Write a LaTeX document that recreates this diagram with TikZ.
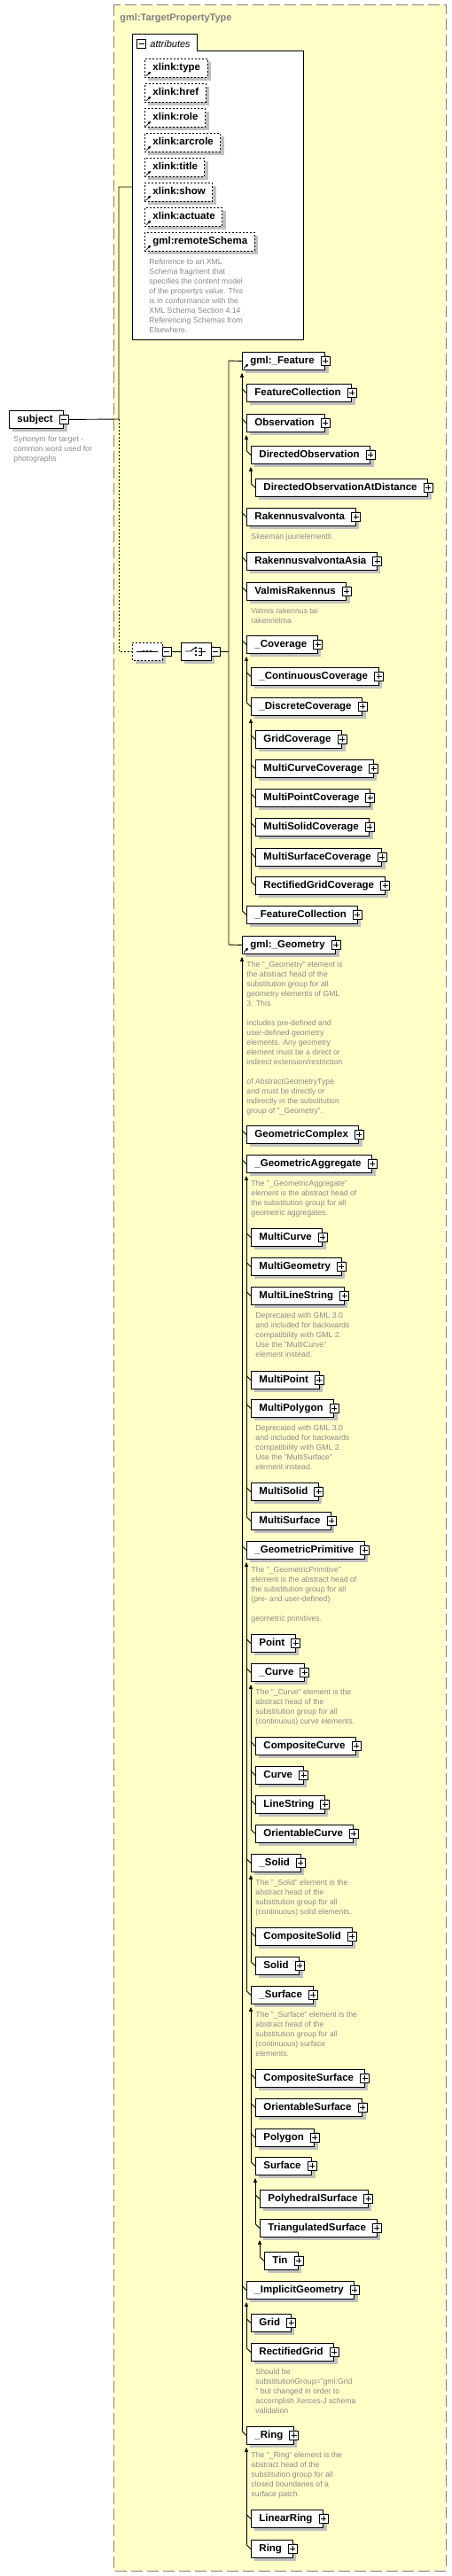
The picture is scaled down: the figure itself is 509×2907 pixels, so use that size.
\documentclass[tikz,border=0pt]{standalone}
\usepackage{fontspec}
\setmainfont{Liberation Sans}
\usepackage[HTML]{xcolor}
\usetikzlibrary{positioning, arrows.meta, shadows, shapes.misc}

\definecolor{typefill}{HTML}{FFFFC8}
\definecolor{typeline}{HTML}{808080}
\definecolor{descgray}{HTML}{8A8A8A}
\definecolor{shadowgray}{HTML}{C0C0C0}

\newcommand{\lblfont}{\fontsize{11.5pt}{13pt}\selectfont\bfseries}
\newcommand{\descfont}{\fontsize{8.7pt}{11pt}\selectfont}

\tikzset{
  boxshadow/.style={drop shadow={shadow xshift=4pt, shadow yshift=-4pt, fill=shadowgray, opacity=1}},
  typebox/.style={draw=typeline, fill=typefill, line width=1pt, dash pattern=on 13pt off 5pt},
  typetitle/.style={font=\fontsize{11pt}{13pt}\selectfont\bfseries, text=typeline, inner sep=0pt},
  elem/.style={draw, fill=white, anchor=north west, minimum height=20pt, inner xsep=0pt, inner ysep=0pt,
    text height=8pt, text depth=2.5pt, font=\lblfont, boxshadow,
    execute at begin node={\hspace*{9pt}}, execute at end node={\hspace*{12pt}}},
  attr/.style={draw, fill=white, anchor=north west, minimum height=21pt, inner xsep=0pt, inner ysep=0pt,
    text height=8pt, text depth=2.5pt, font=\lblfont, boxshadow, dash pattern=on 2pt off 2pt,
    execute at begin node={\hspace*{9pt}}, execute at end node={\hspace*{8pt}}},
  desc/.style={anchor=north west, align=left, inner sep=0pt, font=\descfont, text=descgray},
  plusbox/.style={draw, fill=white, minimum size=10pt, inner sep=0pt, line width=0.8pt,
    path picture={\draw ([xshift=-3pt]path picture bounding box.center) -- ([xshift=3pt]path picture bounding box.center)
      ([yshift=-3pt]path picture bounding box.center) -- ([yshift=3pt]path picture bounding box.center);}},
  minusbox/.style={draw, fill=white, minimum size=10pt, inner sep=0pt, line width=0.8pt,
    path picture={\draw ([xshift=-3pt]path picture bounding box.center) -- ([xshift=3pt]path picture bounding box.center);}},
  octbox/.style={chamfered rectangle, chamfered rectangle xsep=5pt, draw, fill=white,
    minimum width=34pt, minimum height=20pt, inner sep=0pt, boxshadow},
  refmark/.style={line width=0.8pt, -{Triangle[length=3pt,width=3pt]}},
  subline/.style={{Triangle[length=5pt,width=4pt]}-},
  optline/.style={dash pattern=on 2pt off 2pt}
}

% substitution group line and the small ticks to its members
\newcommand{\subgrp}[2]{\draw[subline] ([yshift=-3pt]#1.south west) -- ([xshift=-5pt,yshift=5pt]#2.west);}
\newcommand{\subticks}[1]{\foreach \c in {#1} \draw ([xshift=-5pt,yshift=5pt]\c.west) -- (\c.west);}

\begin{document}
\begin{tikzpicture}[x=1pt, y=-1pt, line width=0.9pt]
\useasboundingbox (0,0) rectangle (509,2907);

% complex type
\draw[typebox] (128,5) rectangle (503,2901);
\node[typetitle, anchor=base west] (ttl) at (135,23) {gml:TargetPropertyType};

% attributes
\draw[fill=white] (149,383) -- (149,38) -- (222,38) -- (222,57) -- (342,57) -- (342,383) -- cycle;
\node[minusbox] (attrM) at (159.5,49.5) {};
\node[font=\fontsize{11pt}{13pt}\selectfont\itshape, anchor=base west, inner sep=0pt] (attrT) at (169,53) {attributes};
\foreach \n/\t [count=\i from 0] in {aty/xlink:type, ahr/xlink:href, aro/xlink:role, aar/xlink:arcrole,
    ati/xlink:title, ash/xlink:show, aac/xlink:actuate, ars/gml:remoteSchema}{
  \node[attr] (\n) at (163,{66+28*\i}) {\t};
  \draw[refmark] ([xshift=2pt,yshift=2pt]\n.south west) -- ++(5pt,5pt);
}
\node[desc] (arsD) at ([xshift=5pt,yshift=-8pt]ars.south west) {Reference to an XML\\Schema fragment that\\specifies the content model\\of the propertys value. This\\is in conformance with the\\XML Schema Section 4.14\\Referencing Schemas from\\Elsewhere.};

% the element
\node[elem] (subj) at (10,463) {subject};
\node[minusbox] (subjM) at (subj.east) {};
\node[desc] (subjD) at ([xshift=5pt,yshift=-8pt]subj.south west) {Synonym for target -\\common word used for\\photographs};

% sequence and choice
\node[octbox, dash pattern=on 2pt off 2pt] (seq) at (166,735) {};
\draw ([xshift=-12pt]seq.center) -- ([xshift=12pt]seq.center);
\foreach \d in {-4,0,4} \fill ([xshift=\d pt]seq.center) ++(-1.3pt,-1.3pt) rectangle ++(2.6pt,2.6pt);
\node[minusbox] (seqM) at ([xshift=5pt]seq.east) {};
\node[octbox] (choice) at (221,735) {};
\draw ([xshift=-12pt]choice.center) -- ([xshift=-6pt]choice.center) -- ([xshift=-1pt,yshift=4pt]choice.center);
\foreach \d in {-4,0,4} \fill ([yshift=\d pt]choice.center) ++(-1.3pt,-1.3pt) rectangle ++(2.6pt,2.6pt);
\draw ([xshift=3pt,yshift=4pt]choice.center) -- ([xshift=6pt,yshift=4pt]choice.center) -- ([xshift=6pt,yshift=-4pt]choice.center) -- ([xshift=3pt,yshift=-4pt]choice.center)
  ([xshift=3pt]choice.center) -- ([xshift=11pt]choice.center);
\node[minusbox] (choiceM) at ([xshift=5pt]choice.east) {};

% members of the choice and their substitution groups
\foreach \n/\x/\y/\t in {
    feat/273/397/gml:\_Feature, geom/273/1056/gml:\_Geometry,
    fc/278/433/FeatureCollection, obs/278/467/Observation, rak/278/573/Rakennusvalvonta,
    raka/278/623/RakennusvalvontaAsia, valm/278/657/ValmisRakennus, cov/278/717/\_Coverage,
    fcol/278/1022/\_FeatureCollection,
    dobs/283/503/DirectedObservation, dobsd/288/540/DirectedObservationAtDistance,
    ccov/283/753/\_ContinuousCoverage, dcov/283/787/\_DiscreteCoverage,
    gridc/288/824/GridCoverage, mcc/288/857/MultiCurveCoverage, mpc/288/890/MultiPointCoverage,
    msc/288/923/MultiSolidCoverage, msfc/288/957/MultiSurfaceCoverage, rgc/288/989/RectifiedGridCoverage,
    gcx/278/1270/GeometricComplex, gagg/278/1303/\_GeometricAggregate, gprim/278/1739/\_GeometricPrimitive,
    igeo/278/2574/\_ImplicitGeometry, ring/278/2738/\_Ring,
    mcur/283/1386/MultiCurve, mgeo/283/1419/MultiGeometry, mls/283/1452/MultiLineString,
    mpt/283/1547/MultiPoint, mpol/283/1579/MultiPolygon, msol/283/1673/MultiSolid, msur/283/1706/MultiSurface,
    pt/283/1844/Point, cur/283/1877/\_Curve, sol/283/2092/\_Solid, sur/283/2241/\_Surface,
    ccur/288/1960/CompositeCurve, curve/288/1993/Curve, ls/288/2026/LineString, ocur/288/2059/OrientableCurve,
    csol/288/2175/CompositeSolid, solid/288/2208/Solid,
    csur/288/2335/CompositeSurface, osur/288/2368/OrientableSurface, poly/288/2402/Polygon, surf/288/2434/Surface,
    phs/293/2471/PolyhedralSurface, tris/293/2504/TriangulatedSurface, tin/298/2541/Tin,
    grid/283/2611/Grid, rgrid/283/2644/RectifiedGrid,
    lring/283/2832/LinearRing, rng/283/2866/Ring}{
  \node[elem] (\n) at (\x,\y) {\t};
  \node[plusbox] (\n-p) at (\n.east) {};
}
\draw[refmark] ([xshift=2pt,yshift=2pt]feat.south west) -- ++(5pt,5pt);
\draw[refmark] ([xshift=2pt,yshift=2pt]geom.south west) -- ++(5pt,5pt);

% descriptions
\node[desc] (rakD) at ([xshift=5pt,yshift=-8pt]rak.south west) {Skeeman juurielementti};
\node[desc] (valmD) at ([xshift=5pt,yshift=-8pt]valm.south west) {Valmis rakennus tai\\rakennelma};
\node[desc] (geomD) at ([xshift=5pt,yshift=-8pt]geom.south west) {The "\_Geometry" element is\\the abstract head of the\\substitution group for all\\geometry elements of GML\\3. This\\[11pt]includes pre-defined and\\user-defined geometry\\elements. Any geometry\\element must be a direct or\\indirect extension/restriction\\[11pt]of AbstractGeometryType\\and must be directly or\\indirectly in the substitution\\group of "\_Geometry".};
\node[desc] (gaggD) at ([xshift=5pt,yshift=-8pt]gagg.south west) {The "\_GeometricAggregate"\\element is the abstract head of\\the substitution group for all\\geometric aggregates.};
\node[desc] (mlsD) at ([xshift=5pt,yshift=-8pt]mls.south west) {Deprecated with GML 3.0\\and included for backwards\\compatibility with GML 2.\\Use the "MultiCurve"\\element instead.};
\node[desc] (mpolD) at ([xshift=5pt,yshift=-8pt]mpol.south west) {Deprecated with GML 3.0\\and included for backwards\\compatibility with GML 2.\\Use the "MultiSurface"\\element instead.};
\node[desc] (gprimD) at ([xshift=5pt,yshift=-8pt]gprim.south west) {The "\_GeometricPrimitive"\\element is the abstract head of\\the substitution group for all\\(pre- and user-defined)\\[11pt]geometric primitives.};
\node[desc] (curD) at ([xshift=5pt,yshift=-8pt]cur.south west) {The "\_Curve" element is the\\abstract head of the\\substitution group for all\\(continuous) curve elements.};
\node[desc] (solD) at ([xshift=5pt,yshift=-8pt]sol.south west) {The "\_Solid" element is the\\abstract head of the\\substitution group for all\\(continuous) solid elements.};
\node[desc] (surD) at ([xshift=5pt,yshift=-8pt]sur.south west) {The "\_Surface" element is the\\abstract head of the\\substitution group for all\\(continuous) surface\\elements.};
\node[desc] (rgridD) at ([xshift=5pt,yshift=-8pt]rgrid.south west) {Should be\\substitutionGroup="gml:Grid\\" but changed in order to\\accomplish Xerces-J schema\\validation};
\node[desc] (ringD) at ([xshift=5pt,yshift=-8pt]ring.south west) {The "\_Ring" element is the\\abstract head of the\\substitution group for all\\closed boundaries of a\\surface patch.};

% connectors
\coordinate (jn) at (134,473);
\coordinate (attrJ) at (134,211);
\coordinate (attrW) at (149,211);
\coordinate (seqJ) at (134,735);
\coordinate (busT) at (258,407);
\coordinate (busB) at (258,1066);
\draw (subjM.east) -- (jn) -- (attrJ) -- (attrW);
\draw[optline] (jn) -- (seqJ) -- (seq.west);
\draw (seqM.east) -- (choice.west);
\draw (choiceM.east) -- (choiceM.east -| busT);
\draw (feat.west) -- (busT) -- (busB) -- (geom.west);

\subgrp{feat}{fcol}  \subticks{fc,obs,rak,raka,valm,cov,fcol}
\subgrp{obs}{dobs}   \subticks{dobs}
\subgrp{dobs}{dobsd} \subticks{dobsd}
\subgrp{cov}{dcov}   \subticks{ccov,dcov}
\subgrp{dcov}{rgc}   \subticks{gridc,mcc,mpc,msc,msfc,rgc}
\subgrp{geom}{ring}  \subticks{gcx,gagg,gprim,igeo,ring}
\subgrp{gagg}{msur}  \subticks{mcur,mgeo,mls,mpt,mpol,msol,msur}
\subgrp{gprim}{sur}  \subticks{pt,cur,sol,sur}
\subgrp{cur}{ocur}   \subticks{ccur,curve,ls,ocur}
\subgrp{sol}{solid}  \subticks{csol,solid}
\subgrp{sur}{surf}   \subticks{csur,osur,poly,surf}
\subgrp{surf}{tris}  \subticks{phs,tris}
\subgrp{tris}{tin}   \subticks{tin}
\subgrp{igeo}{rgrid} \subticks{grid,rgrid}
\subgrp{ring}{rng}   \subticks{lring,rng}
\end{tikzpicture}
\end{document}
